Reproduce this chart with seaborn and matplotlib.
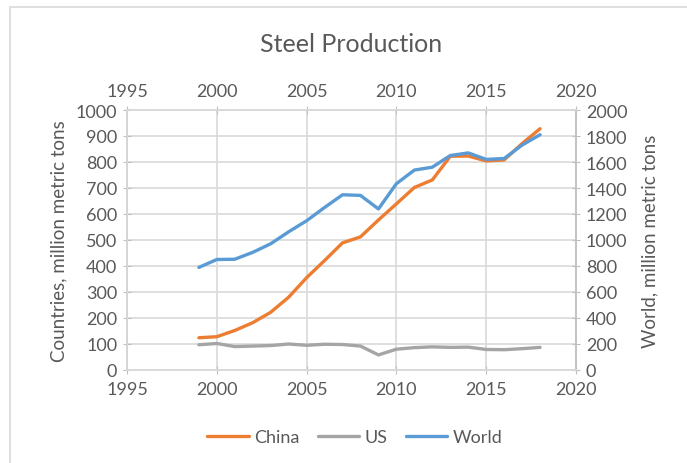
import numpy as np
import pandas as pd
import seaborn as sns
import matplotlib.pyplot as plt
from matplotlib.patches import Rectangle

years = list(range(1999, 2019))
china = [124, 128, 152, 182, 222, 280, 355, 421, 489, 512, 577, 639, 702, 731, 822, 823, 804, 808, 871, 928]
us = [97, 102, 90, 92, 94, 100, 95, 99, 98, 92, 58, 80, 86, 89, 87, 88, 79, 78, 82, 87]
world = [789, 850, 852, 905, 971, 1063, 1148, 1250, 1348, 1343, 1239, 1433, 1538, 1560, 1650, 1670, 1620, 1627, 1730, 1810]

text_c = '#595959'
grid_c = '#d9d9d9'
axis_c = '#bfbfbf'

sns.set_style('white')
plt.rcParams['font.family'] = ['Lato', 'DejaVu Sans']
plt.rcParams['text.color'] = text_c

df = pd.DataFrame({'year': years, 'China': china, 'US': us, 'World': world})

fig = plt.figure(figsize=(6.87, 4.64), dpi=100)
fig.patches.append(Rectangle((10 / 687, -0.01), 1.0, 1 - 8 / 464 + 0.01, transform=fig.transFigure,
                             fill=False, edgecolor=grid_c, lw=1.2))
ax = fig.add_axes([127 / 687, 1 - 371 / 464, (576 - 127) / 687, (371 - 111) / 464])
ax2 = ax.twinx()

sns.lineplot(data=df, x='year', y='China', ax=ax, color='#ED7D31', lw=2.4, label='China', legend=False)
sns.lineplot(data=df, x='year', y='US', ax=ax, color='#A5A5A5', lw=2.4, label='US', legend=False)
sns.lineplot(data=df, x='year', y='World', ax=ax2, color='#5B9BD5', lw=2.4, label='World', legend=False)

ax.set_xlim(1995, 2020)
ax.set_ylim(0, 1000)
ax2.set_ylim(0, 2000)
ax.set_xticks(range(1995, 2021, 5))
ax.set_yticks(range(0, 1001, 100))
ax2.set_yticks(range(0, 2001, 200))
ax.grid(True, color=grid_c, lw=1.2)
ax.set_axisbelow(True)

for a in (ax, ax2):
    for s in a.spines.values():
        s.set_color(grid_c)
        s.set_linewidth(1.2)
ax.spines['left'].set_color(axis_c)
ax2.spines['right'].set_color(axis_c)

ax.tick_params(axis='x', top=True, labeltop=True, bottom=True, labelbottom=True,
               direction='inout', length=6, color=axis_c, labelcolor=text_c, labelsize=13, pad=5)
ax.tick_params(axis='y', direction='inout', length=6, color=axis_c, labelcolor=text_c, labelsize=13, pad=4)
ax2.tick_params(axis='y', direction='inout', length=6, color=axis_c, labelcolor=text_c, labelsize=13, pad=4)

ax.set_xlabel('')
ax.set_ylabel('Countries, million metric tons', fontsize=13.5, color=text_c, labelpad=6)
ax2.set_ylabel('World, million metric tons', fontsize=13.5, color=text_c, rotation=90, labelpad=10)

fig.text(351 / 687, 1 - 44 / 464, 'Steel Production', ha='center', va='center', fontsize=18, color=text_c)

h1, l1 = ax.get_legend_handles_labels()
h2, l2 = ax2.get_legend_handles_labels()
fig.legend(h1 + h2, l1 + l2, loc='center', bbox_to_anchor=(355 / 687, 1 - 438 / 464), ncol=3, frameon=False,
           fontsize=13, handlelength=2.3, handletextpad=0.3, columnspacing=1.0, labelcolor=text_c)

fig.savefig('out.png', dpi=100)
